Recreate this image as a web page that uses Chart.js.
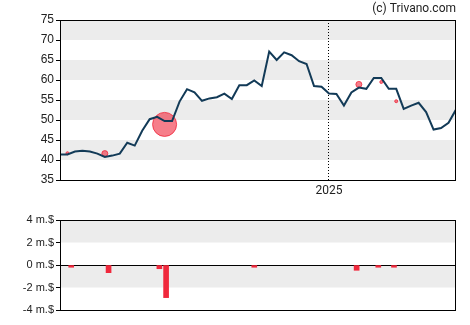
<!DOCTYPE html>
<html>
<head>
<meta charset="utf-8">
<script src="https://cdn.jsdelivr.net/npm/chart.js@4"></script>
<style>
  body { margin: 0; background: #fff; }
  #wrap { position: relative; width: 470px; height: 325px; }
  #top { position: absolute; left: 0; top: 0; width: 470px; height: 200px; }
  #bottom { position: absolute; left: 0; top: 200px; width: 470px; height: 125px; }
</style>
</head>
<body>
<div id="wrap">
  <div id="top"><canvas id="priceChart"></canvas></div>
  <div id="bottom"><canvas id="tradeChart"></canvas></div>
</div>
<script>
// weekly closing prices, one year
const prices = [
  41.4, 41.4, 42.1, 42.3, 42.1, 41.6, 40.75, 41.1, 41.6, 44.3,
  43.6, 47.3, 50.2, 50.8, 49.75, 49.75, 54.6, 57.7, 56.9, 54.8,
  55.4, 55.7, 56.6, 55.25, 58.7, 58.7, 59.9, 58.5, 67.1, 65.0,
  66.9, 66.2, 64.7, 64.0, 58.5, 58.3, 56.6, 56.5, 53.6, 56.9,
  58.1, 57.8, 60.5, 60.5, 57.8, 57.8, 52.8, 53.6, 54.3, 52.0,
  47.6, 48.0, 49.3, 52.6
];
const yearLabel = '2025';
const yearWeek = 36;
const priceTicks = [35, 40, 45, 50, 55, 60, 65, 70, 75];
const tradeTicks = [-4, -2, 0, 2, 4];

// insider trades (million $)
const tradeWeeks = [1.5, 6.5, 13.3, 14.2, 26, 39.7, 42.6, 44.7];
const tradeValues = [-0.2, -0.68, -0.33, -2.9, -0.2, -0.47, -0.2, -0.2];

// trade markers on the price line
const markerWeeks = [1, 6, 14, 40, 43, 45];
const markerPrices = [41.7, 41.6, 48.9, 58.9, 59.5, 54.7];
const markerSizes = [1.5, 3, 12, 3, 1.5, 1.5];

// grey bands every other tick interval, from the top down
const bands = {
  id: 'bands',
  beforeDraw(chart, args, opts) {
    const {ctx, chartArea: a, scales: {y}} = chart;
    const t = opts.ticks;
    ctx.save();
    ctx.fillStyle = '#ececec';
    for (let i = t.length - 1; i > 0; i -= 2) {
      const y1 = y.getPixelForValue(t[i]);
      const y2 = y.getPixelForValue(t[i - 1]);
      ctx.fillRect(a.left, y1, a.right - a.left, y2 - y1);
    }
    ctx.restore();
  }
};

// black box round the plot area
const frame = {
  id: 'frame',
  afterDraw(chart) {
    const {ctx, chartArea: a} = chart;
    ctx.save();
    ctx.strokeStyle = '#000';
    ctx.lineWidth = 1;
    ctx.strokeRect(a.left + 0.5, a.top + 0.5, a.right - a.left - 1, a.bottom - a.top);
    ctx.restore();
  }
};

const fixWidth = scale => { scale.width = 60; };

new Chart(document.getElementById('priceChart'), {
  type: 'line',
  data: {
    datasets: [
      {
        data: prices.map((p, i) => ({x: i, y: p})),
        borderColor: '#123a57',
        borderWidth: 2,
        pointRadius: 0,
        tension: 0,
        order: 0
      },
      {
        type: 'bubble',
        data: markerWeeks.map((w, i) => ({x: w, y: markerPrices[i], r: markerSizes[i]})),
        backgroundColor: 'rgba(240, 40, 60, 0.6)',
        borderColor: 'rgba(240, 40, 60, 0.8)',
        borderWidth: 1,
        order: 1
      }
    ]
  },
  options: {
    responsive: true,
    maintainAspectRatio: false,
    animation: false,
    layout: {padding: {right: 14}},
    plugins: {
      legend: {display: false},
      tooltip: {enabled: false},
      title: {
        display: true,
        text: '(c) Trivano.com',
        align: 'end',
        color: '#222',
        font: {family: 'Roboto', size: 12, weight: 'normal'},
        padding: {top: 2, bottom: 3.6}
      },
      bands: {ticks: priceTicks}
    },
    scales: {
      x: {
        type: 'linear',
        min: 0,
        max: prices.length - 1,
        afterBuildTicks: scale => { scale.ticks = [{value: yearWeek}]; },
        afterFit: scale => { scale.height = 20; },
        ticks: {
          callback: () => yearLabel,
          color: '#222',
          font: {family: 'Roboto', size: 12},
          padding: 4,
          maxRotation: 0
        },
        grid: {color: '#000', lineWidth: 1, drawTicks: false},
        border: {display: false, dash: [1, 2]}
      },
      y: {
        min: 35,
        max: 75,
        afterBuildTicks: scale => { scale.ticks = priceTicks.map(v => ({value: v})); },
        afterFit: fixWidth,
        ticks: {
          color: '#222',
          font: {family: 'Liberation Sans', size: 12},
          padding: 2
        },
        grid: {drawOnChartArea: false, tickLength: 4, tickColor: '#000'},
        border: {display: false}
      }
    }
  },
  plugins: [bands, frame]
});

new Chart(document.getElementById('tradeChart'), {
  type: 'bar',
  data: {
    datasets: [{
      data: tradeWeeks.map((w, i) => ({x: w, y: tradeValues[i]})),
      backgroundColor: '#f0283c',
      barThickness: 5
    }]
  },
  options: {
    responsive: true,
    maintainAspectRatio: false,
    animation: false,
    layout: {padding: {top: 20, right: 14, bottom: 15}},
    plugins: {
      legend: {display: false},
      tooltip: {enabled: false},
      bands: {ticks: tradeTicks}
    },
    scales: {
      x: {
        type: 'linear',
        min: 0,
        max: prices.length - 1,
        offset: false,
        display: false
      },
      y: {
        min: -4,
        max: 4,
        afterBuildTicks: scale => { scale.ticks = tradeTicks.map(v => ({value: v})); },
        afterFit: fixWidth,
        ticks: {
          callback: v => v + ' m.$',
          color: '#222',
          font: {family: 'Liberation Sans', size: 11},
          padding: 2
        },
        grid: {
          color: ctx => (ctx.tick && ctx.tick.value === 0 ? '#000' : 'transparent'),
          tickColor: '#000',
          tickLength: 4,
          lineWidth: 1
        },
        border: {display: false}
      }
    }
  },
  plugins: [bands, frame]
});
</script>
</body>
</html>
